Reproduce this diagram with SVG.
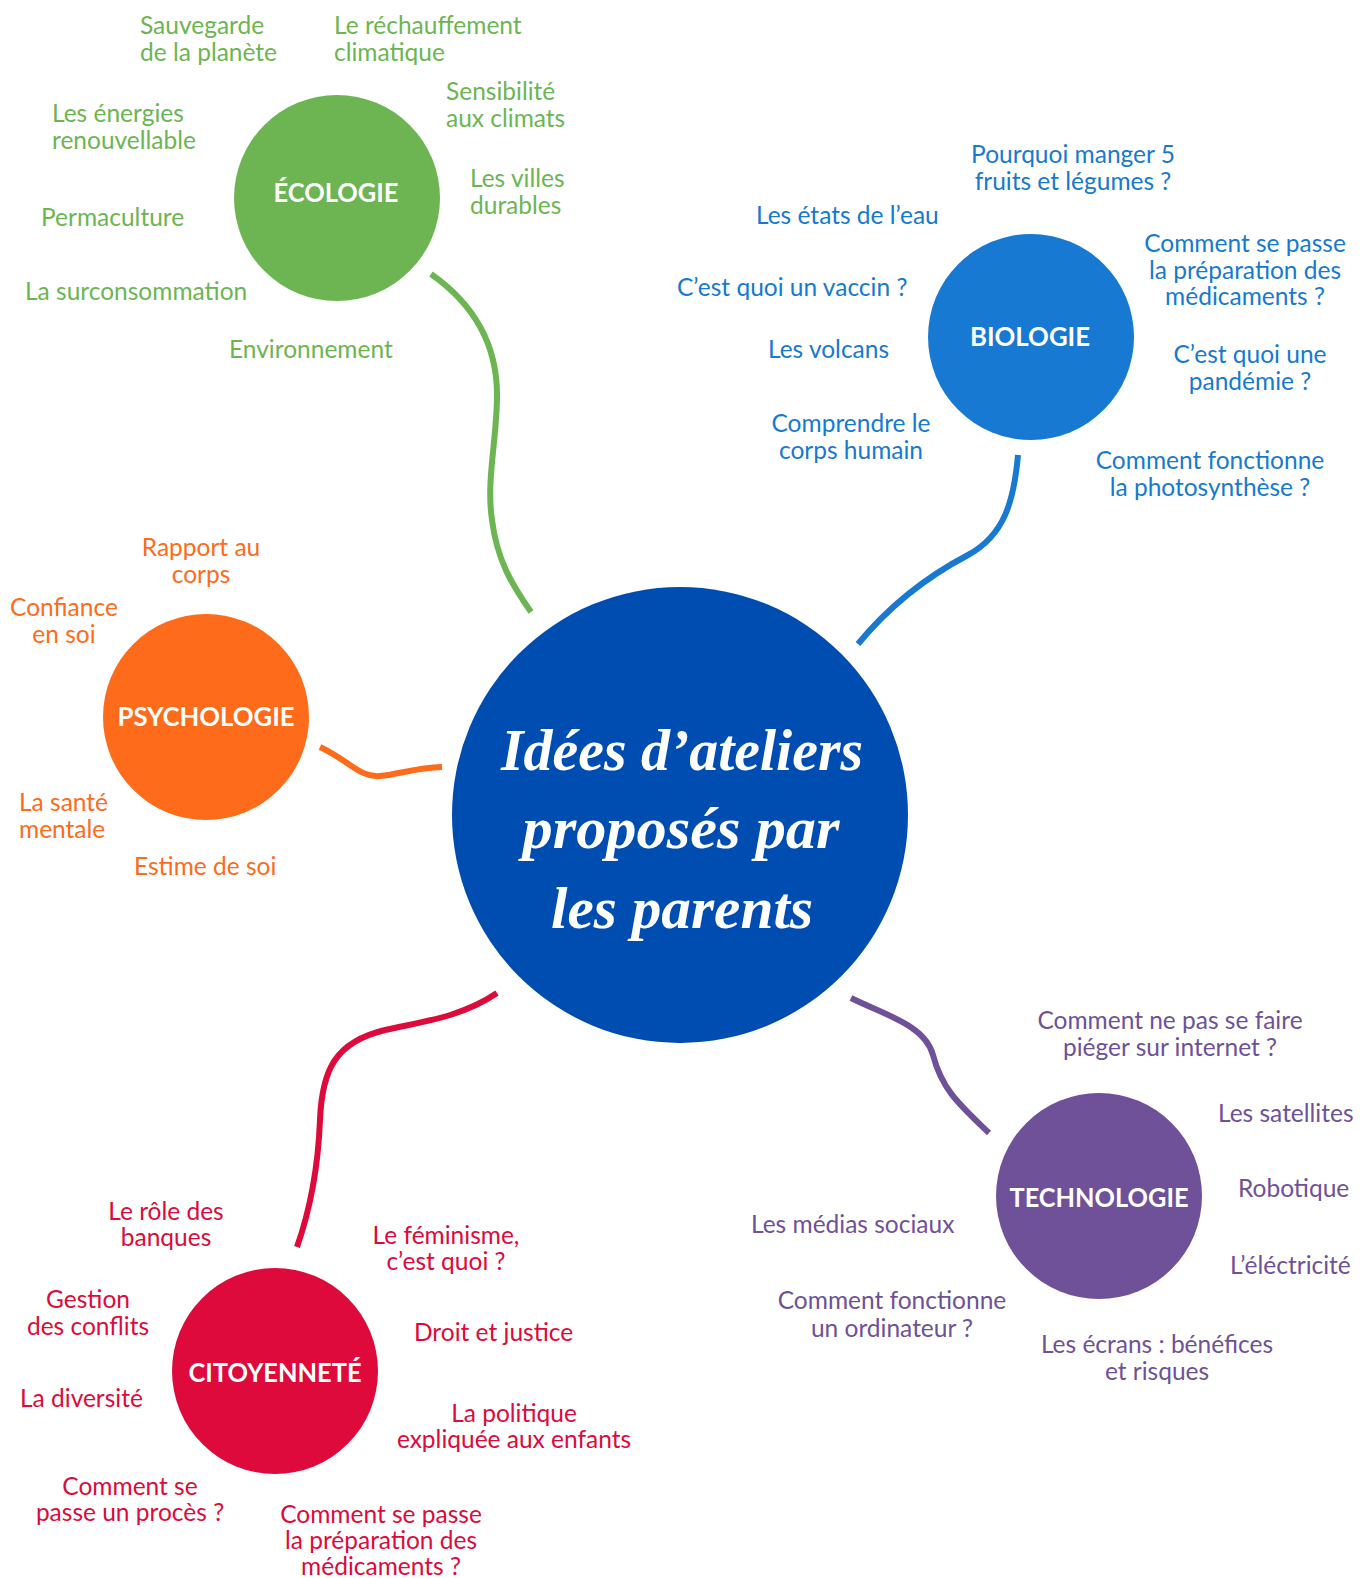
<svg xmlns="http://www.w3.org/2000/svg" width="1366" height="1578" viewBox="0 0 1366 1578">
<style>
.t{font-family:Lato,"Liberation Sans",sans-serif;font-size:24.5px}
.m{text-anchor:middle}
.g{fill:#6db552}.b{fill:#1779d1}.o{fill:#fd6b1b}.r{fill:#dd0a3b}.p{fill:#6e5199}
.h{font-family:Lato,"Liberation Sans",sans-serif;font-weight:700;font-size:26px;fill:#fff;text-anchor:middle}
.c{fill:none;stroke-width:6}
.title{font-family:"Liberation Serif","DejaVu Serif",serif;font-weight:700;font-style:italic;font-size:60px;fill:#fff;text-anchor:middle}
</style>
<rect width="1366" height="1578" fill="#fff"/>
<g id="connectors">
<path class="c" stroke="#6db552" d="M431,274 C475,305 497,345 497,395 C497,440 486,480 492,520 C497,560 512,585 531,612"/>
<path class="c" stroke="#1779d1" d="M1018,455 C1014,500 1005,535 968,555 C930,575 890,605 858,644"/>
<path class="c" stroke="#fd6b1b" d="M320,747 C348,760 360,778 380,776 C400,774 415,768 442,767"/>
<path class="c" stroke="#dd0a3b" d="M497,993 C460,1018 420,1022 385,1030 C335,1042 322,1070 320,1120 C318,1170 310,1210 297,1247"/>
<path class="c" stroke="#6e5199" d="M851,998 C885,1015 925,1025 933,1055 C942,1090 960,1105 989,1133"/>
</g>
<g id="center">
<circle cx="680" cy="815" r="228" fill="#004db2"/>
<text class="title" x="682" y="770" textLength="362" lengthAdjust="spacingAndGlyphs">Idées d’ateliers</text>
<text class="title" x="681" y="848" textLength="317" lengthAdjust="spacingAndGlyphs">proposés par</text>
<text class="title" x="682" y="928" textLength="262" lengthAdjust="spacingAndGlyphs">les parents</text>
</g>
<g id="ecologie">
<circle cx="337" cy="198" r="103" fill="#6db552"/>
<text class="h" x="336" y="202" textLength="125" lengthAdjust="spacingAndGlyphs">ÉCOLOGIE</text>
<text class="t g" x="140" y="34">Sauvegarde</text>
<text class="t g" x="140" y="61">de la planète</text>
<text class="t g" x="334" y="34">Le réchauffement</text>
<text class="t g" x="334" y="61">climatique</text>
<text class="t g" x="446" y="100">Sensibilité</text>
<text class="t g" x="446" y="127">aux climats</text>
<text class="t g" x="52" y="122">Les énergies</text>
<text class="t g" x="52" y="149">renouvellable</text>
<text class="t g" x="470" y="187">Les villes</text>
<text class="t g" x="470" y="214">durables</text>
<text class="t g" x="41" y="226">Permaculture</text>
<text class="t g" x="25" y="300">La surconsommation</text>
<text class="t g" x="229" y="358">Environnement</text>
</g>
<g id="biologie">
<circle cx="1031" cy="337" r="103" fill="#1779d1"/>
<text class="h" x="1030" y="346" textLength="120" lengthAdjust="spacingAndGlyphs">BIOLOGIE</text>
<text class="t b m" x="1073" y="163">Pourquoi manger 5</text>
<text class="t b m" x="1073" y="190">fruits et légumes ?</text>
<text class="t b" x="756" y="224">Les états de l’eau</text>
<text class="t b m" x="1245" y="252">Comment se passe</text>
<text class="t b m" x="1245" y="279">la préparation des</text>
<text class="t b m" x="1245" y="305">médicaments ?</text>
<text class="t b" x="677" y="296">C’est quoi un vaccin ?</text>
<text class="t b" x="768" y="358">Les volcans</text>
<text class="t b m" x="1250" y="363">C’est quoi une</text>
<text class="t b m" x="1250" y="390">pandémie ?</text>
<text class="t b m" x="851" y="432">Comprendre le</text>
<text class="t b m" x="851" y="459">corps humain</text>
<text class="t b m" x="1210" y="469">Comment fonctionne</text>
<text class="t b m" x="1210" y="496">la photosynthèse ?</text>
</g>
<g id="psychologie">
<circle cx="206" cy="717" r="103" fill="#fd6b1b"/>
<text class="h" x="206" y="726" textLength="177" lengthAdjust="spacingAndGlyphs">PSYCHOLOGIE</text>
<text class="t o m" x="201" y="556">Rapport au</text>
<text class="t o m" x="201" y="583">corps</text>
<text class="t o m" x="64" y="616">Confiance</text>
<text class="t o m" x="64" y="643">en soi</text>
<text class="t o" x="19" y="811">La santé</text>
<text class="t o" x="19" y="838">mentale</text>
<text class="t o" x="134" y="875">Estime de soi</text>
</g>
<g id="technologie">
<circle cx="1099" cy="1196" r="103" fill="#6e5199"/>
<text class="h" x="1099" y="1207" textLength="179" lengthAdjust="spacingAndGlyphs">TECHNOLOGIE</text>
<text class="t p m" x="1170" y="1029">Comment ne pas se faire</text>
<text class="t p m" x="1170" y="1056">piéger sur internet ?</text>
<text class="t p" x="1218" y="1122">Les satellites</text>
<text class="t p" x="1238" y="1197">Robotique</text>
<text class="t p" x="751" y="1233">Les médias sociaux</text>
<text class="t p" x="1230" y="1274">L’éléctricité</text>
<text class="t p m" x="892" y="1309">Comment fonctionne</text>
<text class="t p m" x="892" y="1337">un ordinateur ?</text>
<text class="t p m" x="1157" y="1353">Les écrans : bénéfices</text>
<text class="t p m" x="1157" y="1380">et risques</text>
</g>
<g id="citoyennete">
<circle cx="275" cy="1371" r="103" fill="#dd0a3b"/>
<text class="h" x="275" y="1382" textLength="173" lengthAdjust="spacingAndGlyphs">CITOYENNETÉ</text>
<text class="t r m" x="166" y="1220">Le rôle des</text>
<text class="t r m" x="166" y="1246">banques</text>
<text class="t r m" x="446" y="1244">Le féminisme,</text>
<text class="t r m" x="446" y="1270">c’est quoi ?</text>
<text class="t r m" x="88" y="1308">Gestion</text>
<text class="t r m" x="88" y="1335">des conflits</text>
<text class="t r" x="414" y="1341">Droit et justice</text>
<text class="t r" x="20" y="1407">La diversité</text>
<text class="t r m" x="514" y="1422">La politique</text>
<text class="t r m" x="514" y="1448">expliquée aux enfants</text>
<text class="t r m" x="130" y="1495">Comment se</text>
<text class="t r m" x="130" y="1521">passe un procès ?</text>
<text class="t r m" x="381" y="1523">Comment se passe</text>
<text class="t r m" x="381" y="1549">la préparation des</text>
<text class="t r m" x="381" y="1575">médicaments ?</text>
</g>
</svg>
